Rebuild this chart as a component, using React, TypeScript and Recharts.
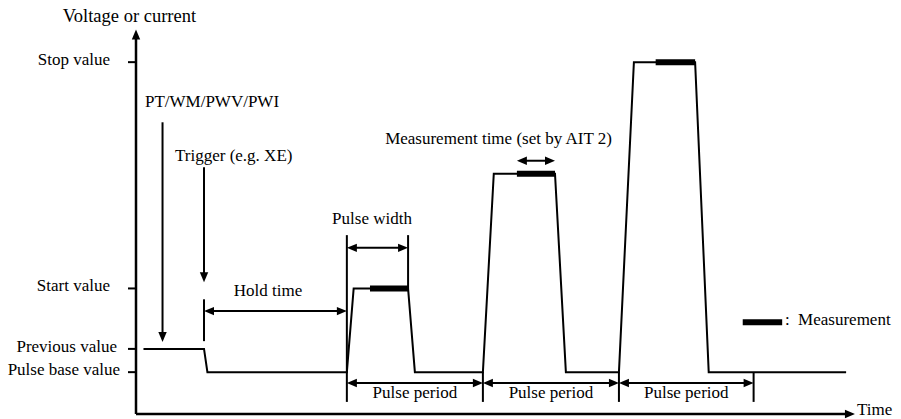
import React from 'react'
import { ComposedChart, Line, XAxis, YAxis, ReferenceLine, ReferenceDot } from 'recharts'

// waveform corners: time (period = 10 units) and output level (stop value = 10)
const waveTime = [0.55, 5.0, 5.25, 15.5, 16.0, 20.0, 20.5, 25.5, 26.3, 30.8, 31.6, 35.5, 36.6, 41.1, 42.1, 52.2]
const waveLevel = [0.75, 0.75, 0, 0, 2.7, 2.7, 0, 0, 6.4, 6.4, 0, 0, 10, 10, 0, 0]

// level ticks on the vertical axis
const levelValues = [0, 0.75, 2.7, 10]
const levelNames = ['Pulse base value', 'Previous value', 'Start value', 'Stop value']

// measurement windows on each pulse
const measStart = [17.2, 28.0, 38.2]
const measEnd = [20.0, 30.8, 41.1]
const measLevel = [2.7, 6.4, 10]

// pulse periods
const periodStart = [15.5, 25.5, 35.5]
const periodEnd = [25.5, 35.5, 45.4]
const periodLabels = ['Pulse period', 'Pulse period', 'Pulse period']

const FONT = '"Liberation Serif", "Times New Roman", serif'
const INK = '#000'

const waveData = waveTime.map((t, i) => ({ t, v: waveLevel[i] }))

// extra space between tick and label, per label
const labelGap: Record<string, number> = {
  'Stop value': 16,
  'Start value': 16,
  'Previous value': 9,
  'Pulse base value': 6,
}

type Head = 'none' | 'end' | 'both'

function arrowShape(head: Head, width = 2, size = 10) {
  return (p: any) => {
    const { x1, y1, x2, y2 } = p
    const dx = x2 - x1
    const dy = y2 - y1
    const len = Math.hypot(dx, dy) || 1
    const ux = dx / len
    const uy = dy / len
    const half = size * 0.42
    const tri = (tx: number, ty: number, ax: number, ay: number) => {
      const bx = tx - ax * size
      const by = ty - ay * size
      return `${tx},${ty} ${bx - ay * half},${by + ax * half} ${bx + ay * half},${by - ax * half}`
    }
    const sx = head === 'both' ? x1 + ux * (size - 2) : x1
    const sy = head === 'both' ? y1 + uy * (size - 2) : y1
    const ex = head !== 'none' ? x2 - ux * (size - 2) : x2
    const ey = head !== 'none' ? y2 - uy * (size - 2) : y2
    return (
      <g>
        <line x1={sx} y1={sy} x2={ex} y2={ey} stroke={INK} strokeWidth={width} />
        {head !== 'none' && <polygon points={tri(x2, y2, ux, uy)} fill={INK} />}
        {head === 'both' && <polygon points={tri(x1, y1, -ux, -uy)} fill={INK} />}
      </g>
    )
  }
}

function textShape(label: string, anchor: 'start' | 'middle' | 'end', size = 17) {
  return (p: any) => (
    <text x={p.cx} y={p.cy} textAnchor={anchor} fontFamily={FONT} fontSize={size} fill={INK}>
      {label}
    </text>
  )
}

function LevelTick(props: any) {
  const { x, y, payload } = props
  const name = levelNames[levelValues.indexOf(payload.value)] ?? ''
  return (
    <text x={x - (labelGap[name] ?? 0)} y={y + 3} textAnchor="end" fontFamily={FONT} fontSize={17} fill={INK}>
      {name}
    </text>
  )
}

function seg(t1: number, v1: number, t2: number, v2: number, head: Head, key: string, width = 2) {
  return (
    <ReferenceLine
      key={key}
      segment={[{ x: t1, y: v1 }, { x: t2, y: v2 }]}
      ifOverflow="visible"
      shape={arrowShape(head, width)}
    />
  )
}

function note(t: number, v: number, label: string, anchor: 'start' | 'middle' | 'end', key: string, size = 17) {
  return <ReferenceDot key={key} x={t} y={v} ifOverflow="visible" shape={textShape(label, anchor, size)} />
}

export default function App() {
  return (
    <div style={{ position: 'absolute', left: 0, top: 0, width: 901, height: 419, background: '#fff' }}>
      <ComposedChart width={901} height={419} margin={{ top: 29.6, right: 44, bottom: 5, left: 56 }}>
        <XAxis type="number" dataKey="t" domain={[0, 53]} hide allowDataOverflow />
        <YAxis
          type="number"
          domain={[-1.35, 11.05]}
          ticks={levelValues}
          interval={0}
          width={80}
          axisLine={false}
          tickSize={8}
          tickLine={{ stroke: INK, strokeWidth: 2 }}
          tick={LevelTick}
          allowDataOverflow
        />

        {/* axes with arrow heads */}
        {seg(0, -1.35, 0, 11.05, 'end', 'yaxis', 2.5)}
        {seg(0, -1.35, 52.85, -1.35, 'end', 'xaxis', 2.5)}

        <Line data={waveData} dataKey="v" type="linear" stroke={INK} strokeWidth={2} dot={false} isAnimationActive={false} />
        {measStart.map((s, i) => (
          <Line
            key={'m' + i}
            data={[{ t: s, v: measLevel[i] }, { t: measEnd[i], v: measLevel[i] }]}
            dataKey="v"
            type="linear"
            stroke={INK}
            strokeWidth={6}
            dot={false}
            isAnimationActive={false}
          />
        ))}

        {/* PT/WM/PWV/PWI and trigger */}
        {seg(1.95, 8.06, 1.95, 0.97, 'end', 'pt')}
        {seg(5.0, 6.61, 5.0, 2.9, 'end', 'trig')}
        {seg(5.0, 2.35, 5.0, 1.0, 'none', 'holdMark')}
        {seg(5.0, 1.97, 15.5, 1.97, 'both', 'hold')}

        {/* pulse width */}
        {seg(15.5, 4.42, 15.5, -0.96, 'none', 'pwL')}
        {seg(20.0, 4.42, 20.0, 2.7, 'none', 'pwR')}
        {seg(15.5, 4.01, 20.0, 4.01, 'both', 'pw')}

        {/* measurement time */}
        {seg(28.0, 6.82, 30.8, 6.82, 'both', 'mt')}

        {/* pulse periods */}
        {periodEnd.map((e, i) => seg(e, 0, e, -0.96, 'none', 'pm' + i))}
        {periodStart.map((s, i) => seg(s, -0.35, periodEnd[i], -0.35, 'both', 'pp' + i))}

        {/* legend */}
        {seg(44.6, 1.61, 47.5, 1.61, 'none', 'legend', 6)}

        {note(-0.48, 11.29, 'Voltage or current', 'middle', 'title', 18.5)}
        {note(0.66, 8.55, 'PT/WM/PWV/PWI', 'start', 'tPt')}
        {note(2.87, 6.81, 'Trigger (e.g. XE)', 'start', 'tTrig')}
        {note(9.7, 2.45, 'Hold time', 'middle', 'tHold')}
        {note(17.35, 4.77, 'Pulse width', 'middle', 'tPw')}
        {note(26.65, 7.35, 'Measurement time (set by AIT 2)', 'middle', 'tMt')}
        {periodStart.map((s, i) => note((s + periodEnd[i]) / 2, -0.84, periodLabels[i], 'middle', 'tp' + i))}
        {note(47.7, 1.52, ':\u00a0\u00a0Measurement', 'start', 'tLegend')}
        {note(53.0, -1.39, 'Time', 'start', 'tTime')}
      </ComposedChart>
    </div>
  )
}
